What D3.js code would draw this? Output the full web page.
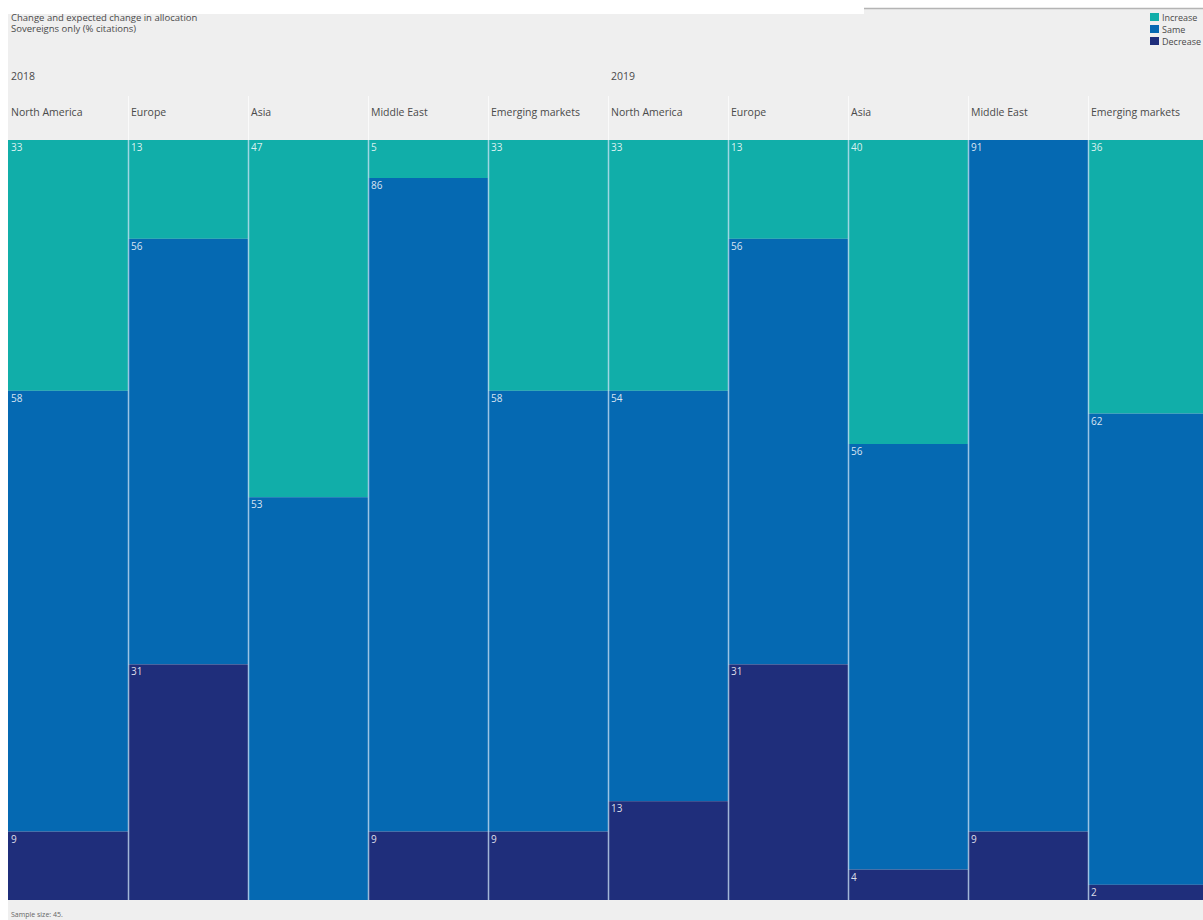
<!DOCTYPE html>
<html>
<head>
<meta charset="utf-8">
<script src="https://cdn.jsdelivr.net/npm/d3@7"></script>
<style>
  html, body { margin: 0; padding: 0; background: #ffffff; }
  svg { display: block; font-family: "Open Sans", "DejaVu Sans", sans-serif; }
</style>
</head>
<body>
<svg id="chart" width="1203" height="920"></svg>
<script>
// Regions shown for each survey year
const years = ["2018", "2019"];
const regions = ["North America", "Europe", "Asia", "Middle East", "Emerging markets"];
const seriesNames = ["Increase", "Same", "Decrease"];

// % citations per region, one array per series (2018 regions, then 2019 regions)
const increase = [33, 13, 47, 5, 33, 33, 13, 40, 0, 36];
const same     = [58, 56, 53, 86, 58, 54, 56, 56, 91, 62];
const decrease = [9, 31, 0, 9, 9, 13, 31, 4, 9, 2];

const colors = ["#11aea9", "#0569b2", "#1f2e7b"];

const svg = d3.select("#chart");
const W = 1203, H = 920;

// Page backdrop
svg.append("rect").attr("x", 0).attr("y", 0).attr("width", W).attr("height", H).attr("fill", "#ffffff");
svg.append("rect").attr("x", 8).attr("y", 14).attr("width", W - 8).attr("height", H - 14).attr("fill", "#efefef");
svg.append("rect").attr("x", 864).attr("y", 9).attr("width", W - 864).attr("height", 6).attr("fill", "#efefef");
svg.append("line").attr("x1", 864).attr("x2", W).attr("y1", 8.5).attr("y2", 8.5)
  .attr("stroke", "#b4b4b4").attr("stroke-width", 1.5);

// One column per (year, region)
const columns = [];
years.forEach((yr, yi) => regions.forEach((rg, ri) => {
  const i = yi * regions.length + ri;
  columns.push({ key: yr + "|" + rg, year: yr, region: rg, first: ri === 0,
    Increase: increase[i], Same: same[i], Decrease: decrease[i] });
}));

const x = d3.scaleBand().domain(columns.map(d => d.key)).range([8, 1208]).padding(0);
const y = d3.scaleLinear().domain([0, 100]).range([140, 900]);

const stacked = d3.stack().keys(seriesNames)(columns);

// Stacked segments
const layers = svg.append("g").selectAll("g").data(stacked).join("g")
  .attr("fill", (d, i) => colors[i]);
layers.selectAll("rect").data(d => d).join("rect")
  .attr("x", d => x(d.data.key))
  .attr("y", d => y(d[0]))
  .attr("width", x.bandwidth())
  .attr("height", d => y(d[1]) - y(d[0]));

// Column separators
svg.append("g").selectAll("line").data(columns.slice(1)).join("line")
  .attr("x1", d => x(d.key) + 0.5).attr("x2", d => x(d.key) + 0.5)
  .attr("y1", 96).attr("y2", 140)
  .attr("stroke", "#ffffff").attr("stroke-opacity", 0.7).attr("stroke-width", 1);
svg.append("g").selectAll("line").data(columns.slice(1)).join("line")
  .attr("x1", d => x(d.key) + 0.5).attr("x2", d => x(d.key) + 0.5)
  .attr("y1", 140).attr("y2", 900)
  .attr("stroke", "#cfe3f5").attr("stroke-opacity", 0.75).attr("stroke-width", 1.5);

// Value labels at the top-left of each segment
const labelData = [];
stacked.forEach(layer => layer.forEach(d => {
  const v = d.data[layer.key];
  if (v > 0) labelData.push({ key: d.data.key, v, top: d[0] });
}));
svg.append("g").selectAll("text").data(labelData).join("text")
  .attr("x", d => x(d.key) + 3)
  .attr("y", d => y(d.top) + 11)
  .attr("fill", "#ffffff").attr("fill-opacity", 0.85)
  .attr("font-size", 10)
  .text(d => d.v);

// Region headers
svg.append("g").selectAll("text").data(columns).join("text")
  .attr("x", d => x(d.key) + 3)
  .attr("y", 116)
  .attr("fill", "#4a4a4a").attr("font-size", 10.5)
  .text(d => d.region);

// Year headers
svg.append("g").selectAll("text").data(columns.filter(d => d.first)).join("text")
  .attr("x", d => x(d.key) + 3)
  .attr("y", 80)
  .attr("fill", "#4a4a4a").attr("font-size", 10.5)
  .text(d => d.year);

// Title
svg.append("text").attr("x", 11).attr("y", 21).attr("fill", "#4a4a4a").attr("font-size", 9.5)
  .text("Change and expected change in allocation");
svg.append("text").attr("x", 11).attr("y", 32).attr("fill", "#4a4a4a").attr("font-size", 9.5)
  .text("Sovereigns only (% citations)");

// Legend
const legend = svg.append("g").selectAll("g").data(seriesNames).join("g")
  .attr("transform", (d, i) => `translate(1150, ${13 + i * 12})`);
legend.append("rect").attr("width", 9).attr("height", 8).attr("fill", (d, i) => colors[i]);
legend.append("text").attr("x", 12).attr("y", 7.5).attr("fill", "#4a4a4a").attr("font-size", 9)
  .text(d => d);

// Footnote
svg.append("text").attr("x", 11).attr("y", 917).attr("fill", "#666666").attr("font-size", 7)
  .text("Sample size: 45.");
</script>
</body>
</html>
